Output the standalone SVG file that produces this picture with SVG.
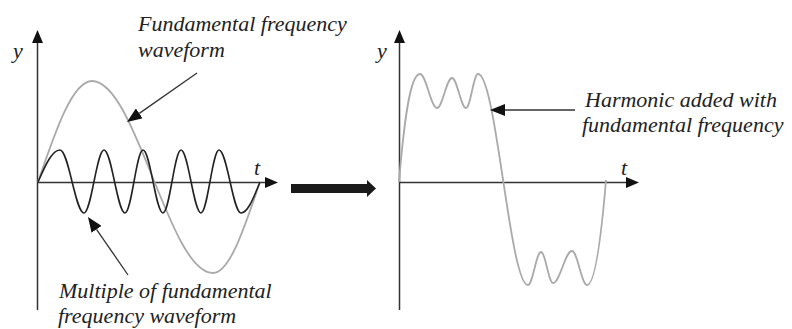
<svg xmlns="http://www.w3.org/2000/svg" width="792" height="329" viewBox="0 0 792 329">
<defs>
<style>
.axis{stroke:#333;stroke-width:1.5;fill:none}
.fund{stroke:#aaa;stroke-width:1.8;fill:none}
.harm{stroke:#222;stroke-width:1.6;fill:none}
.call{stroke:#333;stroke-width:1.3;fill:none}
.lbl{font-family:"Liberation Serif","Times New Roman",serif;font-style:italic;font-size:22px;fill:#222}
</style>
<marker id="axhead" viewBox="0 0 13 11" refX="0" refY="5.5" markerWidth="13" markerHeight="11" markerUnits="userSpaceOnUse" orient="auto">
<path d="M0,0 L13,5.5 L0,11 Z" fill="#111"/>
</marker>
<marker id="callhead" viewBox="0 0 15 12" refX="0" refY="6" markerWidth="15" markerHeight="12" markerUnits="userSpaceOnUse" orient="auto">
<path d="M0,0 L15,6 L0,12 Z" fill="#111"/>
</marker>
</defs>
<rect width="792" height="329" fill="#fff"/>

<g id="left-graph">
<line class="axis" x1="37.5" y1="310" x2="37.5" y2="43" marker-end="url(#axhead)"/>
<line class="axis" x1="37.5" y1="182.5" x2="265" y2="182.5" marker-end="url(#axhead)"/>
<text class="lbl" x="13" y="58">y</text>
<text class="lbl" x="254" y="175">t</text>
</g>

<g id="fundamental-wave">
<path class="fund" d="M38,182 C55.6,130.3 72.5,81 92,81 C136,81 169,273 213,273 C230,273 244.7,226.4 260,182"/>
</g>

<g id="multiple-wave">
<path class="harm" d="M38,182 C45.2,165.6 52,150 60,150 C68.7,150 75.3,213 84,213 C91.3,213 96.7,150 104,150 C111.6,150 117.4,213 125,213 C131.6,213 136.4,150 143,150 C150.3,150 155.7,213 163,213 C169.6,213 174.4,150 181,150 C188.3,150 193.7,213 201,213 C207.6,213 212.4,150 219,150 C227,150 233,213 241,213 C247.9,213 253.8,197.1 260,182"/>
</g>

<g id="label-fundamental">
<text class="lbl" x="138" y="31">Fundamental frequency</text>
<text class="lbl" x="138" y="56.5">waveform</text>
</g>

<g id="label-multiple">
<text class="lbl" x="59" y="297.5">Multiple of fundamental</text>
<text class="lbl" x="58" y="322.5">frequency waveform</text>
</g>

<g id="big-arrow">
<polygon points="291,184 367,184 367,180 376,188.5 367,197 367,193 291,193" fill="#1a1a1a"/>
</g>

<g id="right-graph">
<line class="axis" x1="399.5" y1="310" x2="399.5" y2="43" marker-end="url(#axhead)"/>
<line class="axis" x1="399.5" y1="182.5" x2="626" y2="182.5" marker-end="url(#axhead)"/>
<text class="lbl" x="377" y="58">y</text>
<text class="lbl" x="621" y="175">t</text>
</g>

<g id="combined-wave">
<path class="fund" d="M399,182 C404,122 410,74 420,74 C426.2,74 430.8,108 437,108 C442.5,108 446.5,78 452,78 C457.1,78 460.9,108 466,108 C470.4,108 473.6,74 478,74 C496.2,74 509.8,285 528,285 C532.7,285 536.3,252 541,252 C545.4,252 548.6,283 553,283 C559.9,283 565.1,251 572,251 C577.5,251 581.5,285 587,285 C595,285 601,240 606,180"/>
</g>

<g id="label-harmonic">
<text class="lbl" x="585" y="107">Harmonic added with</text>
<text class="lbl" x="582" y="132">fundamental frequency</text>
</g>

<g id="connectors">
<line class="call" x1="197" y1="73" x2="139.3" y2="113.4" marker-end="url(#callhead)"/>
<line class="call" x1="128" y1="275" x2="96.5" y2="229.3" marker-end="url(#callhead)"/>
<line class="call" x1="575" y1="110" x2="505" y2="110" marker-end="url(#callhead)"/>
</g>
</svg>
